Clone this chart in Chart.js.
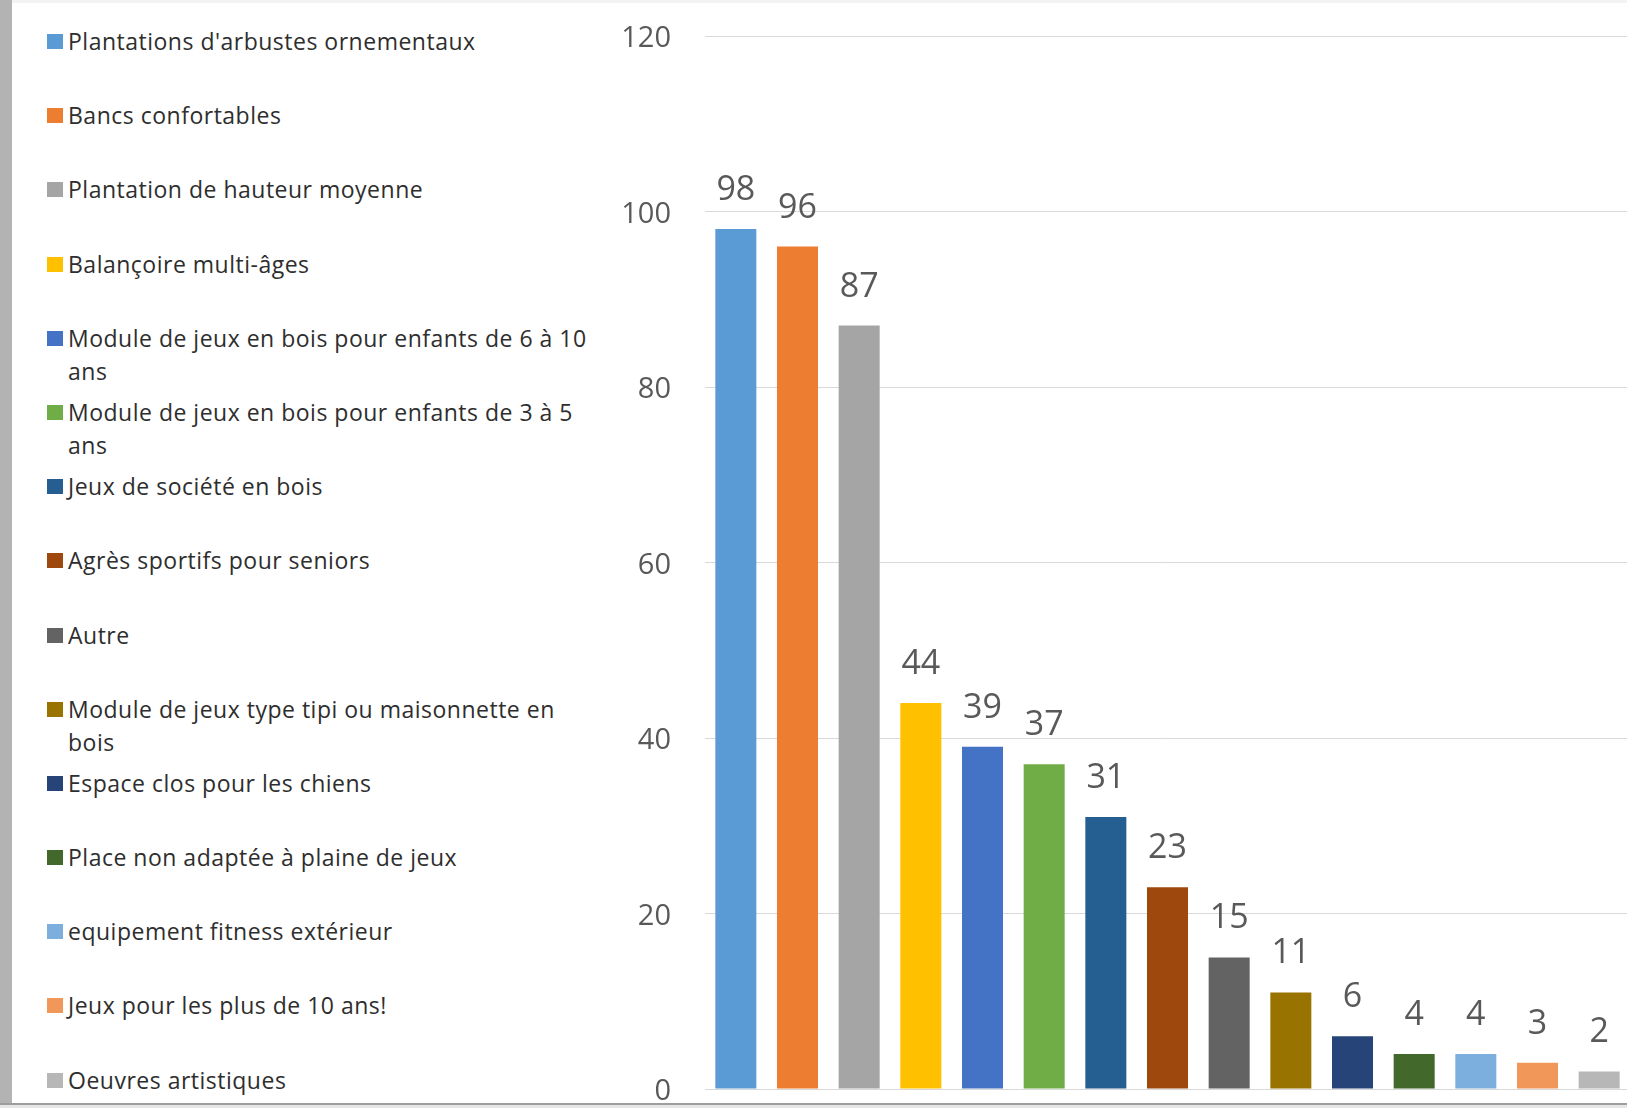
<!DOCTYPE html>
<html lang="fr">
<head>
<meta charset="utf-8">
<title>Aménagements souhaités</title>
<script src="https://cdn.jsdelivr.net/npm/chart.js@4.4.1/dist/chart.umd.min.js"></script>
<style>
  html, body { margin: 0; padding: 0; width: 1627px; height: 1108px; overflow: hidden; background: #fff; font-family: "Open Sans", sans-serif; }
  .edgeTop { position: absolute; left: 0; top: 0; width: 1627px; height: 3px; background: #f3f3f3; }
  .edgeLeft { position: absolute; left: 0; top: 0; width: 12px; height: 1108px; background: #b3b3b3; }
  .edgeBottom { position: absolute; left: 0; top: 1103px; width: 1627px; height: 2px; background: #9d9d9d; }
  .edgeBottom2 { position: absolute; left: 0; top: 1105px; width: 1627px; height: 3px; background: #e6e6e6; }
  #legend { position: absolute; left: 47px; top: 25px; width: 580px; }
  .item { display: flex; align-items: flex-start; height: 74.2px; }
  .swatch { width: 16px; height: 15px; margin-top: 9px; margin-right: 5px; flex: none; }
  .label { font-size: 23px; letter-spacing: 0.5px; line-height: 33px; color: #2e2e2e; width: 528px; }
  #chartBox { position: absolute; left: 600px; top: 0; width: 1030px; height: 1108px; }
</style>
</head>
<body>
<div class="edgeTop"></div>
<div class="edgeLeft"></div>
<div class="edgeBottom"></div>
<div class="edgeBottom2"></div>
<div id="legend"></div>
<div id="chartBox"><canvas id="chart"></canvas></div>

<script>
  // ===== Données =====
  const CATEGORIES = [
    "Plantations d'arbustes ornementaux",
    "Bancs confortables",
    "Plantation de hauteur moyenne",
    "Balançoire multi-âges",
    "Module de jeux en bois pour enfants de 6 à 10 ans",
    "Module de jeux en bois pour enfants de 3 à 5 ans",
    "Jeux de société en bois",
    "Agrès sportifs pour seniors",
    "Autre",
    "Module de jeux type tipi ou maisonnette en bois",
    "Espace clos pour les chiens",
    "Place non adaptée à plaine de jeux",
    "equipement fitness extérieur",
    "Jeux pour les plus de 10 ans!",
    "Oeuvres artistiques"
  ];
  const VALUES = [98, 96, 87, 44, 39, 37, 31, 23, 15, 11, 6, 4, 4, 3, 2];
  const COLORS = [
    "#5B9BD5", "#ED7D31", "#A5A5A5", "#FFC000", "#4472C4",
    "#70AD47", "#255E91", "#9E480E", "#636363", "#997300",
    "#264478", "#43682B", "#7CAFDD", "#F1975A", "#B7B7B7"
  ];
  const Y_TICKS = [0, 20, 40, 60, 80, 100, 120];

  // ===== Légende (HTML) =====
  const legend = document.getElementById("legend");
  legend.innerHTML = CATEGORIES
    .map((name, i) => `<div class="item"><span class="swatch" style="background:${COLORS[i]}"></span><span class="label">${name}</span></div>`)
    .join("");

  // ===== Étiquettes de valeur au-dessus des barres =====
  const valueLabels = {
    id: "valueLabels",
    afterDatasetsDraw(chart) {
      const ctx = chart.ctx;
      const meta = chart.getDatasetMeta(0);
      ctx.save();
      ctx.font = '34px "Open Sans"';
      ctx.fillStyle = "#595959";
      ctx.textAlign = "center";
      ctx.textBaseline = "alphabetic";
      meta.data.forEach((bar, i) => {
        ctx.fillText(String(VALUES[i]), bar.x, bar.y - 29);
      });
      ctx.restore();
    }
  };

  new Chart(document.getElementById("chart"), {
    type: "bar",
    data: {
      labels: CATEGORIES,
      datasets: [{
        data: VALUES,
        backgroundColor: COLORS,
        borderWidth: 0,
        categoryPercentage: 1,
        barPercentage: 0.665
      }]
    },
    options: {
      responsive: true,
      maintainAspectRatio: false,
      animation: false,
      layout: { padding: { top: 36, bottom: 19, left: 0, right: 0 } },
      plugins: {
        legend: { display: false },
        tooltip: { enabled: false }
      },
      scales: {
        x: {
          ticks: { display: false },
          grid: { display: false },
          border: { display: false },
          afterFit: (scale) => { scale.height = 0; }
        },
        y: {
          min: Y_TICKS[0],
          max: Y_TICKS[Y_TICKS.length - 1],
          ticks: {
            stepSize: Y_TICKS[1] - Y_TICKS[0],
            color: "#595959",
            font: { family: "Open Sans", size: 29 },
            padding: 0,
            labelOffset: 3
          },
          // tick marks kept transparent: they only hold the gap before the labels
          grid: { color: "#d9d9d9", lineWidth: 1, drawTicks: true, tickLength: 34, tickColor: "rgba(0,0,0,0)" },
          border: { display: false },
          afterFit: (scale) => { scale.width = 105; }
        }
      }
    },
    plugins: [valueLabels]
  });
</script>
</body>
</html>
